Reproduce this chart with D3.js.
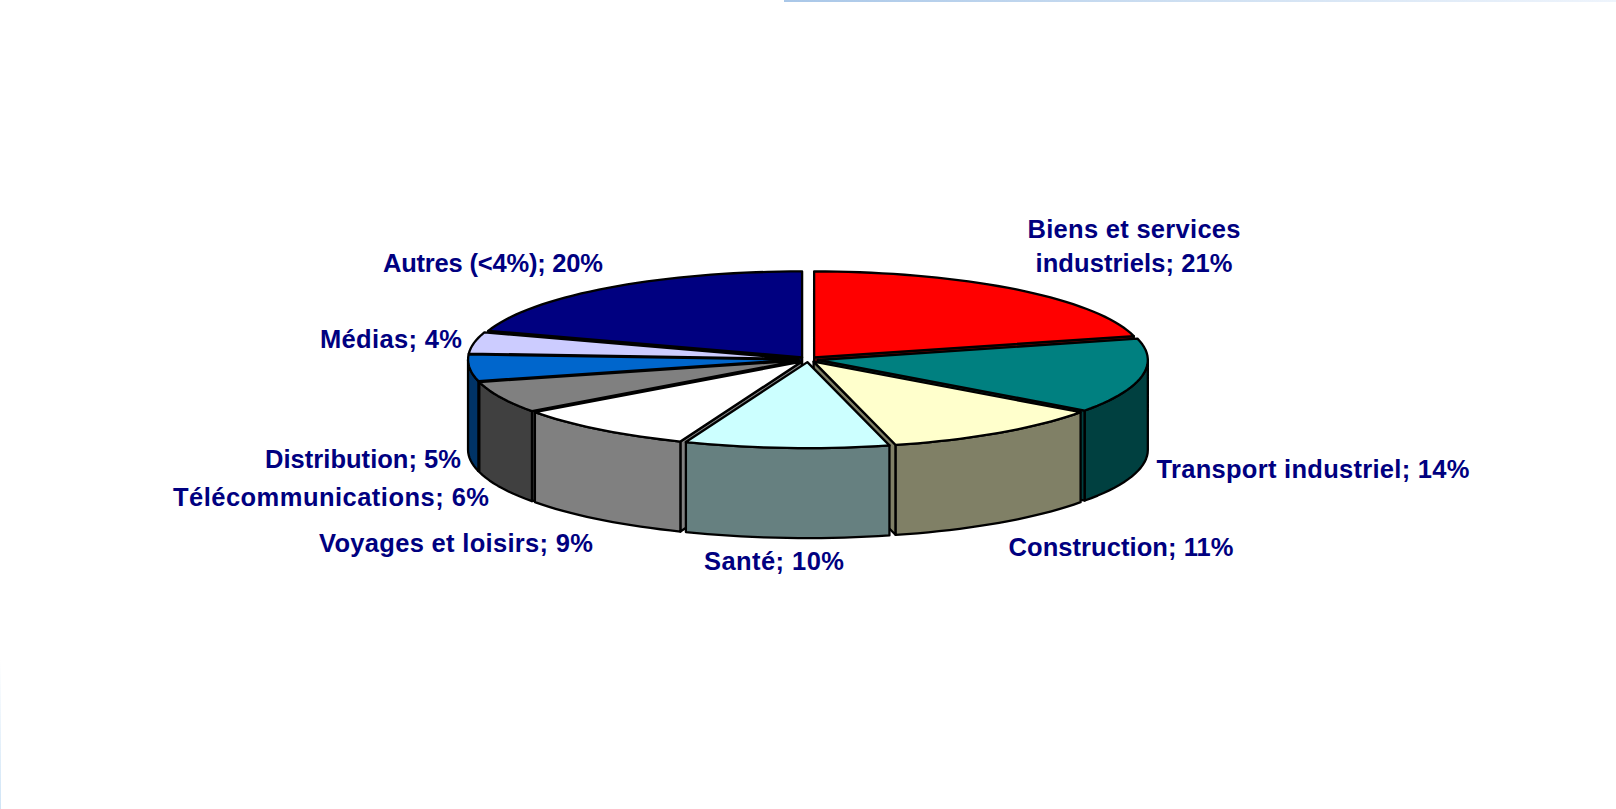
<!DOCTYPE html>
<html>
<head>
<meta charset="utf-8">
<script src="https://cdn.jsdelivr.net/npm/d3@7/dist/d3.min.js"></script>
<style>
html,body{margin:0;padding:0;background:#fff;overflow:hidden}
svg{display:block}
text{font-family:"Liberation Sans",Arial,sans-serif;font-weight:bold;fill:#000080}
</style>
</head>
<body>
<svg id="chart" width="1616" height="809"></svg>
<script>
const categories = ["Biens et services industriels","Transport industriel","Construction","Santé","Voyages et loisirs","Télécommunications","Distribution","Médias","Autres (<4%)"];
const values = [21,14,11,10,9,6,5,4,20];
const topColors = ["#ff0000","#008080","#ffffcc","#ccffff","#ffffff","#808080","#0066cc","#ccccff","#000080"];
const sideColors = ["#800000","#004040","#808066","#668080","#808080","#404040","#003366","#666680","#000040"];
const drawOrder = [8,0,7,1,6,5,2,4,3];
const labelLines = [["Biens et services","industriels; 21%"],["Transport industriel; 14%"],["Construction; 11%"],["Santé; 10%"],["Voyages et loisirs; 9%"],["Télécommunications; 6%"],["Distribution; 5%"],["Médias; 4%"],["Autres (<4%); 20%"]];
const labelWidths = [[213,197],[313],[225],[140],[274],[316],[196],[142],[220]];
const labelCx = [1134,1313,1121,774,456,331,363,391,493];
const labelBase = [238,478,556,570,552,506,468,348,272];
const lineOffset = [0,34];

const W=1616,H=809;
const svg=d3.select("#chart");
const defs=svg.append("defs");
const g1=defs.append("linearGradient").attr("id","topStrip");
g1.append("stop").attr("offset",0).attr("stop-color","#a9c7e8");
g1.append("stop").attr("offset",0.5).attr("stop-color","#cfe0f2");
g1.append("stop").attr("offset",1).attr("stop-color","#eef4fc");
const g2=defs.append("linearGradient").attr("id","leftStrip").attr("x1",0).attr("x2",0).attr("y1",0).attr("y2",1);
g2.append("stop").attr("offset",0).attr("stop-color","#ffffff");
g2.append("stop").attr("offset",1).attr("stop-color","#cfe4f6");
svg.append("rect").attr("x",0).attr("y",0).attr("width",W).attr("height",H).attr("fill","#fff");
svg.append("rect").attr("x",784).attr("y",0).attr("width",W-784).attr("height",2).attr("fill","url(#topStrip)");
svg.append("rect").attr("x",0).attr("y",660).attr("width",1).attr("height",149).attr("fill","url(#leftStrip)");

// Projection of the tilted pie: unit disc -> pixels
const rx=330, ry=86, explode=10/330, depth=90;
const xS=d3.scaleLinear().domain([-1,1]).range([808-rx,808+rx]);
const yS=d3.scaleLinear().domain([-1,1]).range([359.5-ry,359.5+ry]);
const line=d3.line().x(d=>d[0]).y(d=>d[1]);
const pie=d3.pie().sort(null).value(d=>d)(values);

const STEP=Math.PI/90;
function arcPts(a0,a1,off,dy){
  const n=Math.max(2,Math.ceil((a1-a0)/STEP)), pts=[];
  for(let i=0;i<=n;i++){
    const a=a0+(a1-a0)*i/n;
    pts.push([xS(Math.sin(a)+off[0]),yS(-Math.cos(a)+off[1])+dy]);
  }
  return pts;
}
const stroke=(s,fill)=>s.attr("fill",fill).attr("stroke","#000").attr("stroke-width",2.3).attr("stroke-linejoin","round");
const layer=svg.append("g");
drawOrder.forEach(i=>{
  const p=pie[i], mid=(p.startAngle+p.endAngle)/2;
  const off=[Math.sin(mid)*explode,-Math.cos(mid)*explode];
  const apex=[xS(off[0]),yS(off[1])];
  const s=layer.append("g").attr("class","slice").attr("data-name",categories[i]);
  const edge=a=>[xS(Math.sin(a)+off[0]),yS(-Math.cos(a)+off[1])];
  // radial cut faces that look towards the viewer
  [[p.startAngle,-1],[p.endAngle,1]].forEach(([a,sign])=>{
    if(sign*Math.sin(a)<=0) return;
    const e=edge(a);
    stroke(s.append("path").attr("d",line([apex,e,[e[0],e[1]+depth],[apex[0],apex[1]+depth]])+"Z"),sideColors[i]);
  });
  // outer wall on the front half
  const a0=Math.max(p.startAngle,Math.PI/2), a1=Math.min(p.endAngle,3*Math.PI/2);
  if(a1>a0){
    const t=arcPts(a0,a1,off,0), b=arcPts(a0,a1,off,depth).reverse();
    stroke(s.append("path").attr("d",line(t.concat(b))+"Z"),sideColors[i]);
  }
  // top face
  stroke(s.append("path").attr("d",line([apex].concat(arcPts(p.startAngle,p.endAngle,off,0)))+"Z"),topColors[i]);
});

const lab=svg.append("g").attr("font-size",25.5);
labelLines.forEach((ls,i)=>{
  ls.forEach((t,j)=>{
    lab.append("text").attr("x",labelCx[i]).attr("y",labelBase[i]+lineOffset[j]).attr("text-anchor","middle")
      .attr("textLength",labelWidths[i][j]).attr("lengthAdjust","spacing").text(t);
  });
});
</script>
</body>
</html>
